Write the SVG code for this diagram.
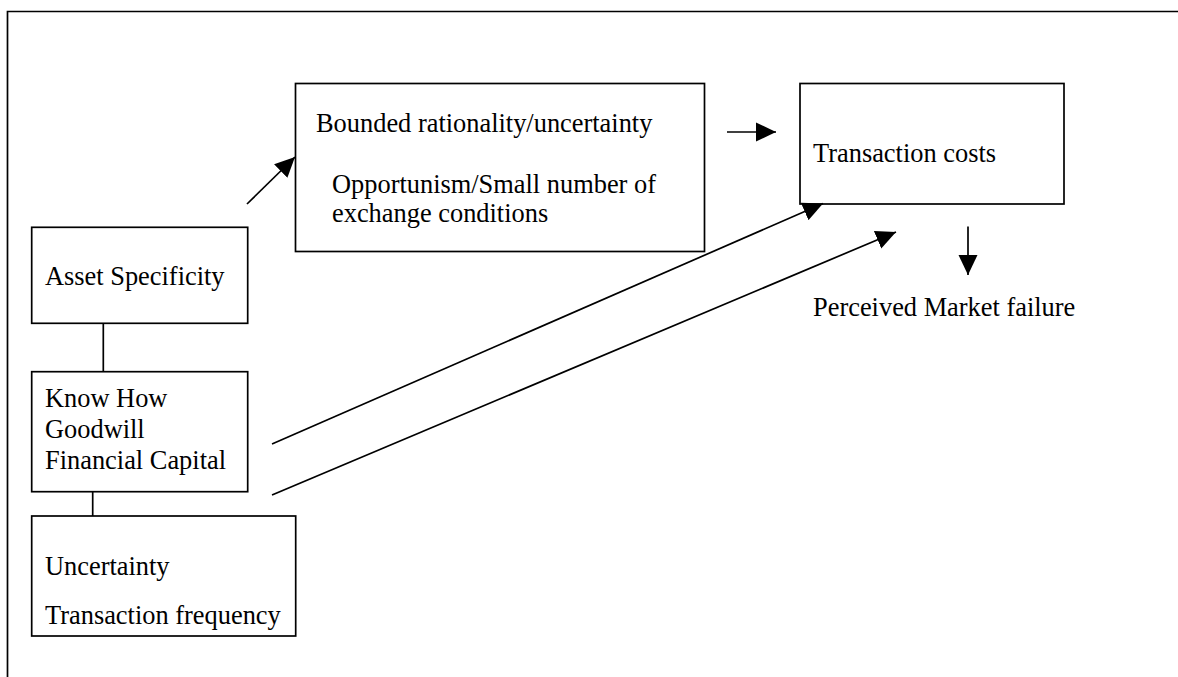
<svg xmlns="http://www.w3.org/2000/svg" width="1178" height="677" viewBox="0 0 1178 677">
  <style>
    .box { fill: #fff; stroke: #000; stroke-width: 1.7; }
    .lbl { font-family: "Liberation Serif", "Times New Roman", serif; font-size: 26.4px; fill: #000; }
    .wire { fill: none; stroke: #000; stroke-width: 1.7; }
  </style>
  <defs>
    <marker id="head" markerUnits="userSpaceOnUse" markerWidth="21" markerHeight="20" refX="20" refY="10" orient="auto">
      <path d="M0,0.5 L20,10 L0,19.5 Z" fill="#000"/>
    </marker>
  </defs>
  <rect width="1178" height="677" fill="#fff"/>

  <!-- outer frame, open at right and bottom -->
  <path d="M7.5,677 V11.5 H1178" class="wire" stroke-width="1.8"/>

  <g id="bounded">
    <rect class="box" x="295.5" y="83.5" width="409" height="168"/>
    <text class="lbl" x="316" y="132">Bounded rationality/uncertainty</text>
    <text class="lbl" x="332" y="193">Opportunism/Small number of</text>
    <text class="lbl" x="332" y="222">exchange conditions</text>
  </g>

  <g id="transaction-costs">
    <rect class="box" x="800" y="83.5" width="264" height="120.5"/>
    <text class="lbl" x="813" y="162">Transaction costs</text>
  </g>

  <g id="market-failure">
    <text class="lbl" x="813" y="316">Perceived Market failure</text>
  </g>

  <g id="asset-specificity">
    <rect class="box" x="31.7" y="227.3" width="216" height="96"/>
    <text class="lbl" x="45" y="285">Asset Specificity</text>
  </g>

  <g id="know-how">
    <rect class="box" x="31.7" y="371.7" width="216" height="120"/>
    <text class="lbl" x="45" y="407">Know How</text>
    <text class="lbl" x="45" y="438">Goodwill</text>
    <text class="lbl" x="45" y="468.5">Financial Capital</text>
  </g>

  <g id="uncertainty">
    <rect class="box" x="31.7" y="516" width="264" height="120"/>
    <text class="lbl" x="45" y="575">Uncertainty</text>
    <text class="lbl" x="45" y="623.5">Transaction frequency</text>
  </g>

  <g id="connectors">
    <line class="wire" x1="103.3" y1="323.3" x2="103.3" y2="371.7"/>
    <line class="wire" x1="92.7" y1="491.7" x2="92.7" y2="516"/>
    <line class="wire" x1="247" y1="204" x2="295" y2="157" marker-end="url(#head)"/>
    <line class="wire" x1="727" y1="132" x2="776" y2="132" marker-end="url(#head)"/>
    <line class="wire" x1="968" y1="226.5" x2="968" y2="275" marker-end="url(#head)"/>
    <line class="wire" x1="272" y1="444" x2="823" y2="203.5" marker-end="url(#head)"/>
    <line class="wire" x1="272" y1="495" x2="896" y2="232" marker-end="url(#head)"/>
  </g>
</svg>
